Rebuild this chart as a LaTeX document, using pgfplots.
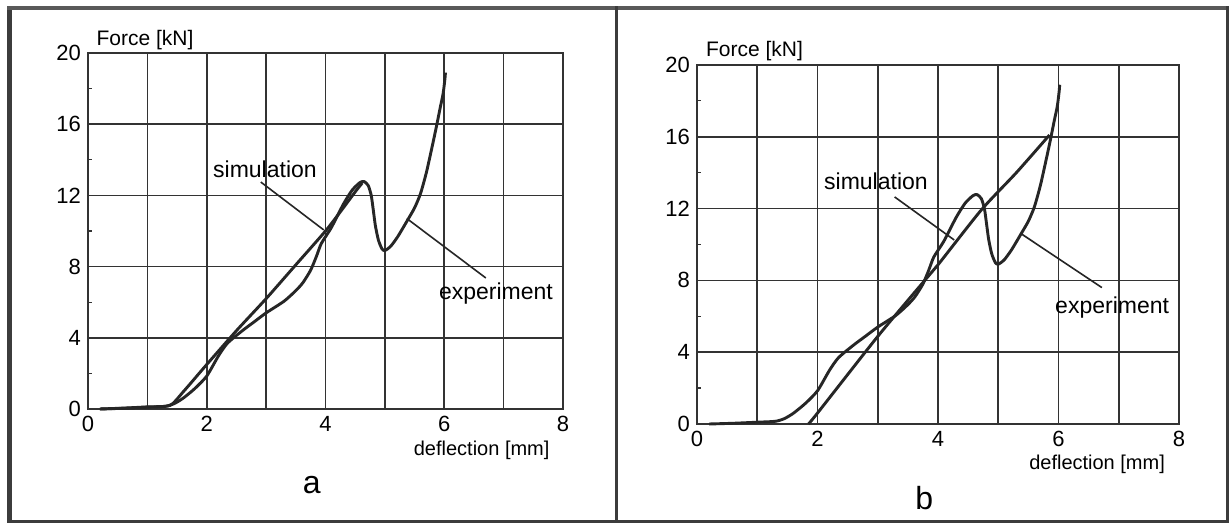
\documentclass[border=0pt]{standalone}
\usepackage{pgfplots}
\usepackage{pgfplotstable}
\pgfplotsset{compat=1.18}
\usepackage{fontspec}
\setmainfont{Liberation Sans}
\definecolor{ink}{HTML}{262626}
\definecolor{gridc}{HTML}{333333}
\definecolor{framec}{HTML}{3C3C3C}

\pgfplotstableread{
x y
0.2 0
0.6 0.04
1.0 0.1
1.3 0.15
1.45 0.3
1.6 0.6
1.8 1.15
2.0 1.85
2.2 3.0
2.35 3.7
2.6 4.4
2.8 4.9
3.0 5.4
3.3 6.05
3.5 6.65
3.62 7.1
3.75 7.8
3.85 8.6
3.93 9.3
4.1 10.2
4.3 11.5
4.45 12.3
4.58 12.72
4.65 12.78
4.72 12.55
4.77 12.0
4.8 11.3
4.84 10.3
4.89 9.5
4.95 9.0
5.0 8.9
5.1 9.15
5.22 9.7
5.38 10.6
5.5 11.3
5.6 12.1
5.7 13.3
5.8 14.8
5.87 15.9
5.93 16.9
5.98 17.7
6.01 18.5
6.02 18.9
}\expdata

\pgfplotstableread{
x y
0.2 0
0.6 0.05
1.0 0.12
1.38 0.2
1.6 0.95
2.0 2.5
2.5 4.4
3.0 6.2
3.5 8.1
4.0 10.0
4.3 11.3
4.5 12.2
4.62 12.7
}\simA

\pgfplotstableread{
x y
1.85 0
2.0 0.61
3.0 4.88
3.78 8.0
4.0 8.87
4.72 11.93
5.3 14.0
5.85 16.1
}\simB

\tikzset{lab/.style={inner sep=0.5pt}}

\pgfplotsset{
 panel/.style={
  scale only axis, anchor=south west,
  xmin=0,xmax=8,ymin=0,ymax=20,
  xtick={0,...,8}, xticklabels={0,,2,,4,,6,,8},
  ytick={0,4,...,20}, minor ytick={2,6,...,18},
  xmajorgrids, ymajorgrids,
  major tick length=0pt, minor tick length=2pt,
  tick pos=left,
  grid style={gridc, line width=0.8pt},
  axis line style={gridc, line width=0.9pt},
  minor tick style={gridc, line width=0.6pt},
  tick label style={font=\fontsize{11}{12}\selectfont},
  /pgf/number format/assume math mode=true,
  xticklabel style={yshift=-2.5pt, inner sep=1pt},
  clip=false,
 },
 curve/.style={ink, line width=1.45pt, line join=round, smooth, tension=0.4},
}

\begin{document}
\begin{tikzpicture}
\useasboundingbox (0,0) rectangle (614.5pt,261.5pt);
\fill[white] (0,0) rectangle (614.5pt,261.5pt);
% outer frames
\draw[framec, line width=2.2pt] (4.75pt,0.75pt) -- (4.75pt,258.5pt);
\draw[framec!85, line width=2pt] (3.6pt,257.5pt) -- (614.5pt,257.5pt);
\draw[framec, line width=1.5pt] (3.6pt,0.75pt) -- (614.5pt,0.75pt);
\draw[framec, line width=1.6pt] (613.6pt,0pt) -- (613.6pt,258.5pt);
\draw[framec, line width=1.6pt] (308.25pt,0pt) -- (308.25pt,258.5pt);

% panel a
\begin{axis}[panel, at={(44pt,57pt)}, width=237.5pt, height=178pt]
\addplot[curve] table {\expdata};
\addplot[curve] table {\simA};
\draw[ink, line width=0.8pt] (axis cs:2.91,12.75) -- (axis cs:3.97,10.06);
\draw[ink, line width=0.8pt] (axis cs:5.37,10.7) -- (axis cs:6.70,7.36);
\node[lab, font=\fontsize{11.5}{13}\selectfont] at (axis cs:2.98,13.45) {simulation};
\node[lab, font=\fontsize{11.5}{13}\selectfont] at (axis cs:6.87,6.5) {experiment};
\node[lab, font=\fontsize{10.5}{12}\selectfont] at (axis cs:0.96,20.75) {Force [kN]};
\node[lab, font=\fontsize{10}{12}\selectfont] at (axis cs:6.63,-2.3) {deflection [mm]};
\node[lab, font=\fontsize{16}{18}\selectfont] at (axis cs:3.77,-4.3) {a};
\end{axis}

% panel b
\begin{axis}[panel, at={(348.5pt,49.5pt)}, width=241pt, height=179.5pt]
\addplot[curve] table {\expdata};
\addplot[curve] table {\simB};
\draw[ink, line width=0.8pt] (axis cs:3.28,12.65) -- (axis cs:4.27,10.25);
\draw[ink, line width=0.8pt] (axis cs:5.38,10.6) -- (axis cs:6.72,7.6);
\node[lab, font=\fontsize{11.5}{13}\selectfont] at (axis cs:2.97,13.5) {simulation};
\node[lab, font=\fontsize{11.5}{13}\selectfont] at (axis cs:6.89,6.5) {experiment};
\node[lab, font=\fontsize{10.5}{12}\selectfont] at (axis cs:0.955,20.75) {Force [kN]};
\node[lab, font=\fontsize{10}{12}\selectfont] at (axis cs:6.64,-2.25) {deflection [mm]};
\node[lab, font=\fontsize{16}{18}\selectfont] at (axis cs:3.77,-4.15) {b};
\end{axis}
\end{tikzpicture}
\end{document}
